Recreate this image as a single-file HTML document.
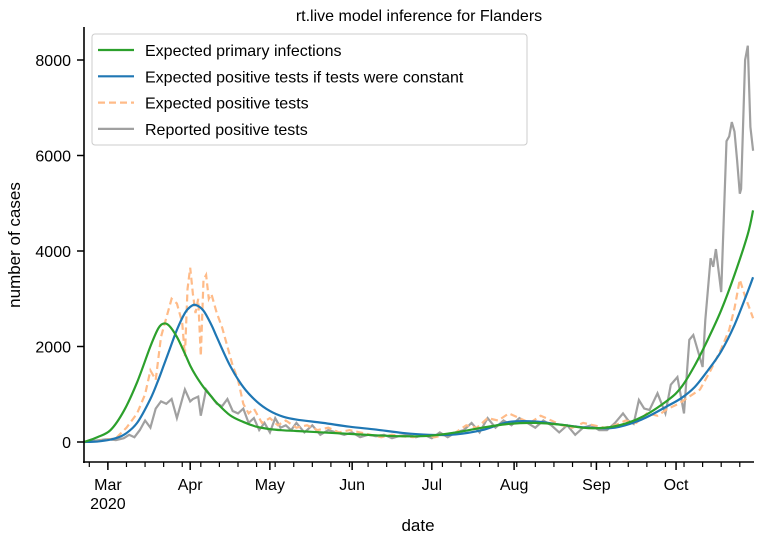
<!DOCTYPE html>
<html><head><meta charset="utf-8"><style>
body{margin:0;background:#fff;}
svg{display:block;font-family:"Liberation Sans","DejaVu Sans",sans-serif;}
</style></head><body>
<svg id="chart" width="760" height="542">
<text x="419" y="21" font-size="16" text-anchor="middle">rt.live model inference for Flanders</text>
<g id="plot"></g>
<g id="axes"></g>
<text x="418" y="531" font-size="17" text-anchor="middle">date</text>
<text transform="translate(20,245) rotate(-90)" font-size="17" text-anchor="middle">number of cases</text>
<g id="legend"></g>
</svg>
<script>
// days since Feb 21 2020
const smoothDays=[0,5,10,15,20,25,28,30,32,35,38,40,42,45,48,50,55,60,65,70,75,80,90,100,110,120,130,140,150,160,170,180,190,200,210,220,225,230,235,240,245,250,252];
const primaryInfections=[0,100,250,650,1250,2000,2380,2480,2440,2200,1850,1600,1400,1150,950,820,560,420,320,270,245,230,200,170,140,120,130,200,300,380,400,360,290,330,520,880,1150,1600,2150,2760,3500,4350,4850];
const constantTests=[0,10,50,150,400,900,1300,1600,1900,2350,2700,2830,2870,2750,2450,2200,1600,1150,850,650,530,470,400,320,260,190,150,160,250,420,430,360,300,300,470,760,920,1150,1500,1900,2450,3150,3450];
const grayDays=[0,3,6,9,12,15,17,19,21,23,25,27,29,31,33,35,36,38,40,41,43,44,46,48,50,52,54,56,58,60,62,64,66,68,70,72,74,76,78,80,83,86,89,92,95,98,101,104,107,110,113,116,119,122,125,128,131,134,137,140,143,146,149,152,155,158,161,164,167,170,173,176,179,182,185,188,191,194,197,200,203,205,207,209,211,213,216,219,221,223.5,226,228,229.5,233,234,236,237,238,240,242,243,244,245,246,247,247.5,249,250,251,252];
const reported=[0,20,40,60,40,80,150,100,250,450,300,700,850,800,900,500,700,1100,850,900,950,550,1100,950,800,750,900,650,600,700,400,500,250,400,200,500,300,350,250,400,200,350,150,250,200,150,200,100,150,120,150,80,130,150,100,150,80,200,100,200,250,400,200,500,300,450,350,500,400,300,450,350,200,350,150,300,350,250,250,400,600,450,380,880,700,670,1020,600,1200,1360,600,2140,2240,1570,2550,3850,3670,4040,3140,6300,6400,6700,6500,5900,5200,5300,8000,8300,6600,6100];
const orangeDays=[0,4,8,12,16,20,23,25,27,29,31,33,35,37,38,39,40,41,42,43,44,45,46,47,48,50,52,54,56,58,60,62,64,67,70,73,76,80,84,88,92,96,100,104,108,112,116,120,124,128,132,136,140,144,148,152,156,160,164,168,172,176,180,184,188,192,196,200,204,208,212,216,220,224,228,232,236,240,243,245,247,249,251,252];
const expectedTests=[0,10,40,80,300,600,1000,1500,1300,2200,2600,3000,2900,2500,1800,3200,3650,3100,2700,3000,1800,3400,3500,3000,3100,2700,2400,2000,1600,1300,800,600,700,400,500,350,450,300,350,250,300,200,250,200,150,100,150,120,100,150,100,150,200,350,300,500,450,600,500,400,550,450,350,300,400,350,300,350,450,400,600,550,700,800,950,1100,1500,1950,2350,2800,3400,3050,2750,2590];

const X0=84,PX=2.655,Y0=442,PY=0.04775;
const xs=d=>X0+d*PX, ys=v=>Y0-v*PY;
const NS="http://www.w3.org/2000/svg";
const plot=document.getElementById('plot'),axes=document.getElementById('axes'),legend=document.getElementById('legend');
function mk(t,a,p){const e=document.createElementNS(NS,t);for(const k in a)e.setAttribute(k,a[k]);p.appendChild(e);return e;}
function pts(dx,vals){return dx.map((d,i)=>xs(d).toFixed(1)+','+ys(vals[i]).toFixed(1)).join(' ');}
function smoothPath(dx,vals){let p='M'+xs(dx[0])+','+ys(vals[0]);
 for(let i=0;i<dx.length-1;i++){const p0=[xs(dx[Math.max(0,i-1)]),ys(vals[Math.max(0,i-1)])],p1=[xs(dx[i]),ys(vals[i])],p2=[xs(dx[i+1]),ys(vals[i+1])],p3=[xs(dx[Math.min(dx.length-1,i+2)]),ys(vals[Math.min(dx.length-1,i+2)])];
 const c1=[p1[0]+(p2[0]-p0[0])/6,p1[1]+(p2[1]-p0[1])/6],c2=[p2[0]-(p3[0]-p1[0])/6,p2[1]-(p3[1]-p1[1])/6];
 p+=' C'+c1.join(',')+' '+c2.join(',')+' '+p2.join(',');}return p;}

let e;
e=mk('polyline',{points:pts(grayDays,reported),fill:'none',stroke:'#a0a0a0','stroke-width':2.2},plot);


e=mk('polyline',{points:pts(orangeDays,expectedTests),fill:'none',stroke:'#ffbb88','stroke-width':2.2,'stroke-dasharray':'7,4'},plot);


e=mk('path',{d:smoothPath(smoothDays,constantTests),fill:'none',stroke:'#1f77b4','stroke-width':2.2},plot);


e=mk('path',{d:smoothPath(smoothDays,primaryInfections),fill:'none',stroke:'#2ca02c','stroke-width':2.2},plot);



// axes
mk('line',{x1:84,y1:27,x2:84,y2:463,stroke:'#000','stroke-width':1.6},axes);
mk('line',{x1:83,y1:462,x2:754,y2:462,stroke:'#000','stroke-width':1.6},axes);
const yTicks=[0,2000,4000,6000,8000];
yTicks.forEach(v=>{mk('line',{x1:77,y1:ys(v),x2:84,y2:ys(v),stroke:'#000','stroke-width':1.5},axes);
 const t=mk('text',{x:71,y:ys(v)+6,'font-size':16,'text-anchor':'end'},axes);t.textContent=v;
 
 });
const monthLabels=['Mar','Apr','May','Jun','Jul','Aug','Sep','Oct'];
const monthDays=[9,40,70,101,131,162,193,223];
monthLabels.forEach((m,i)=>{const x=xs(monthDays[i]);mk('line',{x1:x,y1:462,x2:x,y2:470,stroke:'#000','stroke-width':1.5},axes);
 const t=mk('text',{x:x,y:490,'font-size':16,'text-anchor':'middle'},axes);t.textContent=m;
 
 });
const yr=mk('text',{x:xs(9),y:509,'font-size':16,'text-anchor':'middle'},axes);yr.textContent='2020';
for(let d=2;d<=252;d+=7){mk('line',{x1:xs(d),y1:462,x2:xs(d),y2:467,stroke:'#000','stroke-width':1.2},axes);}

// legend
mk('rect',{x:92,y:34,width:435,height:111,rx:3,fill:'#fff','fill-opacity':0.85,stroke:'#ccc'},legend);
const items=[['Expected primary infections','#2ca02c',''],['Expected positive tests if tests were constant','#1f77b4',''],['Expected positive tests','#ffbb88','7,4'],['Reported positive tests','#a0a0a0','']];
items.forEach((it,i)=>{const y=50+i*26.3;
 mk('line',{x1:98,y1:y,x2:134,y2:y,stroke:it[1],'stroke-width':2.2,'stroke-dasharray':it[2]||'none'},legend);
 const t=mk('text',{x:145,y:y+6,'font-size':16},legend);t.textContent=it[0];
 
 });
</script>
</body></html>
